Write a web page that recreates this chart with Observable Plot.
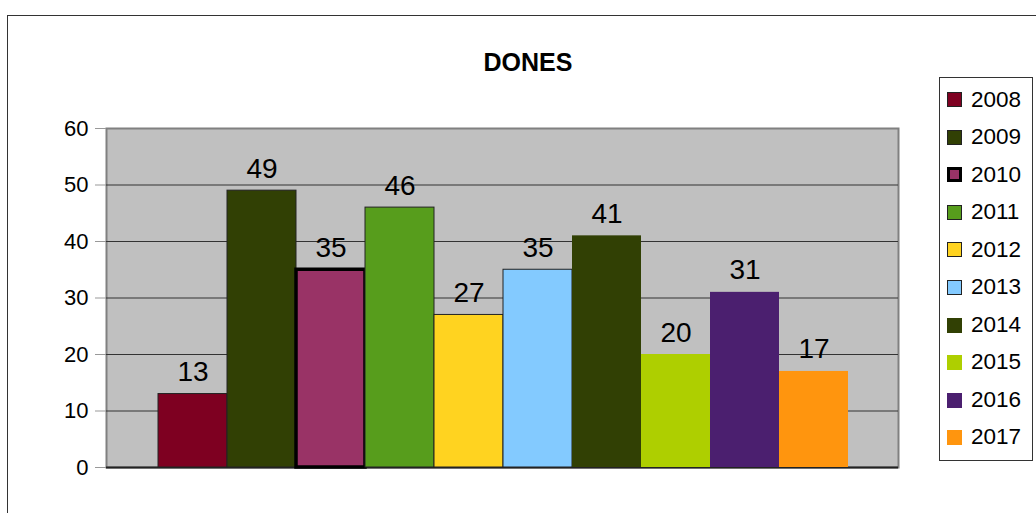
<!DOCTYPE html>
<html>
<head>
<meta charset="utf-8">
<script src="https://cdn.jsdelivr.net/npm/d3@7"></script>
<script src="https://cdn.jsdelivr.net/npm/@observablehq/plot@0.6"></script>
<style>
  html, body { margin: 0; padding: 0; background: #fff; }
  body { width: 1036px; height: 513px; overflow: hidden; position: relative;
         font-family: "Liberation Sans", Arial, sans-serif; }
  #frame { position: absolute; left: 7px; top: 15px; width: 1100px; height: 600px;
           border: 1px solid #333; box-sizing: border-box; }
  #title { position: absolute; left: 0; width: 1056px; top: 47px; text-align: center;
           font-weight: bold; font-size: 25px; line-height: 30px; color: #000; }
  #chart { position: absolute; left: 0; top: 0; }
  #legend { position: absolute; left: 939px; top: 77px; width: 94px; height: 384px;
            border: 1px solid #333; box-sizing: border-box; background: #fff;
            padding-top: 3px; }
  .row { height: 37.56px; display: flex; align-items: center; }
  .sw { width: 15px; height: 15px; box-sizing: border-box; margin-left: 7px; margin-right: 9px; }
  .lab { font-size: 22.5px; color: #000; line-height: 1; }
</style>
</head>
<body>
<div id="frame"></div>
<div id="title">DONES</div>
<div id="chart"></div>
<div id="legend"></div>
<script>
// Years (one bar each) and the value for each year
const years = ["2008", "2009", "2010", "2011", "2012", "2013", "2014", "2015", "2016", "2017"];
const values = [13, 49, 35, 46, 27, 35, 41, 20, 31, 17];
const colors = ["#7e0021", "#314004", "#993366", "#579d1c", "#ffd320", "#83caff", "#314004", "#aecf00", "#4b1f6f", "#ff950e"];
const outlines = ["#222", "#222", "#000", "#222", "#222", "#222", "none", "none", "none", "none"];
const outlineWidths = [1, 1, 3.5, 1, 1, 1, 0, 0, 0, 0];
const yTicks = [0, 10, 20, 30, 40, 50, 60];

const rows = years.map((year, i) => ({
  year, value: values[i], color: colors[i], outline: outlines[i], outlineWidth: outlineWidths[i]
}));

const chart = Plot.plot({
  width: 1036,
  height: 513,
  marginLeft: 106,
  marginRight: 138,
  marginTop: 128,
  marginBottom: 46,
  style: { fontFamily: "Liberation Sans, Arial, sans-serif", background: "transparent", overflow: "visible" },
  x: { domain: years, padding: 0, insetLeft: 52, insetRight: 50, axis: null },
  y: { domain: [0, 60], axis: null },
  marks: [
    Plot.frame({ fill: "#c0c0c0", stroke: "#808080", strokeWidth: 2 }),
    Plot.ruleY(yTicks.filter(d => d > 0 && d < 60), { stroke: "#333", strokeWidth: 1 }),
    Plot.ruleY([0], { stroke: "#222", strokeWidth: 2 }),
    Plot.axisY({ ticks: yTicks, label: null, tickSize: 11, tickPadding: 7, stroke: "#999", fill: "#000", fontSize: 22, tickFormat: d => String(d) }),
    ...rows.map(r => Plot.barY([r], {
      x: "year", y: "value", fill: r.color,
      stroke: r.outline, strokeWidth: r.outlineWidth
    })),
    Plot.text(rows, {
      x: "year", y: "value", text: d => String(d.value),
      lineAnchor: "bottom", dy: -13, fontSize: 28, fill: "#000"
    })
  ]
});
document.getElementById("chart").appendChild(chart);

// Legend: one swatch per year
const legend = document.getElementById("legend");
rows.forEach(r => {
  const row = document.createElement("div");
  row.className = "row";
  const sw = document.createElement("div");
  sw.className = "sw";
  sw.style.background = r.color;
  if (r.outline !== "none") {
    sw.style.border = (r.outlineWidth > 2 ? 3 : 1) + "px solid " + r.outline;
  }
  const lab = document.createElement("span");
  lab.className = "lab";
  lab.textContent = r.year;
  row.appendChild(sw);
  row.appendChild(lab);
  legend.appendChild(row);
});
</script>
</body>
</html>
